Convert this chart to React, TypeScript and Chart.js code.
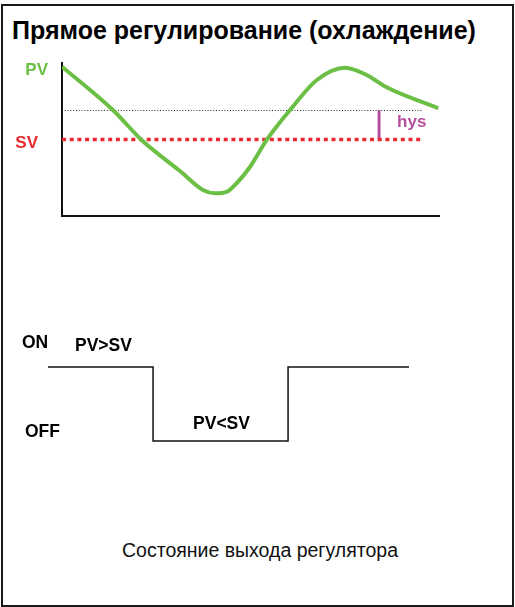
import React, { useEffect, useRef } from "react";
import { Chart, registerables } from "chart.js";

Chart.register(...registerables);

// ---- text ----
const TITLE = "Прямое регулирование (охлаждение)";
const CAPTION = "Состояние выхода регулятора";
const TOP_LABELS = ["PV", "SV", "hys"];
const OUT_LABELS = ["ON", "OFF", "PV>SV", "PV<SV"];

// ---- process value curve (time %, value %) ----
const PV_X = [0, 13.5, 21.1, 31.3, 37.4, 40.6, 43.8, 46.4, 49.9, 54.3, 60.5, 67.6, 75.1, 80.8, 86.1, 99.8];
const PV_Y = [97.6, 69.3, 49.7, 29.4, 17, 14.8, 15.9, 21.6, 32.2, 49.7, 69.3, 88.9, 96.9, 92.2, 84.1, 70.4];

// ---- set value / hysteresis ----
const SV = 50;
const HYS = 19;
const REF_END = 95.5;
const HYS_X = 84.1;

// ---- output state (time %, 1 = ON, 0 = OFF) ----
const OUT_X = [0, 29.1, 66.5, 100];
const OUT_Y = [1, 0, 1, 1];

const GREEN = "#6cbf45";
const RED = "#ea2a2f";
const MAGENTA = "#b4519f";
const FONT = '"Liberation Sans", Arial, Helvetica, sans-serif';

const topLabelPlugin = {
  id: "topLabels",
  afterDatasetsDraw(chart: any) {
    const { ctx, scales } = chart;
    const xs = scales.x;
    const ys = scales.y;
    ctx.save();
    ctx.font = `bold 17px ${FONT}`;
    ctx.textBaseline = "alphabetic";
    ctx.fillStyle = GREEN;
    ctx.textAlign = "right";
    ctx.fillText(TOP_LABELS[0], xs.left - 14, ys.getPixelForValue(PV_Y[0]) + 8);
    ctx.fillStyle = RED;
    ctx.fillText(TOP_LABELS[1], xs.left - 24, ys.getPixelForValue(SV) + 8.5);
    ctx.fillStyle = MAGENTA;
    ctx.textAlign = "left";
    const mid = (ys.getPixelForValue(SV) + ys.getPixelForValue(SV + HYS)) / 2;
    ctx.fillText(TOP_LABELS[2], xs.getPixelForValue(HYS_X) + 18, mid + 2);
    ctx.restore();
  },
};

const outLabelPlugin = {
  id: "outLabels",
  afterDatasetsDraw(chart: any) {
    const { ctx, scales } = chart;
    const xs = scales.x;
    const ys = scales.y;
    const on = ys.getPixelForValue(1);
    const off = ys.getPixelForValue(0);
    ctx.save();
    ctx.font = `bold 17.5px ${FONT}`;
    ctx.fillStyle = "#000";
    ctx.textAlign = "left";
    ctx.textBaseline = "alphabetic";
    ctx.fillText(OUT_LABELS[0], xs.left - 26, on - 18.7);
    ctx.fillText(OUT_LABELS[1], xs.left - 23, off - 4);
    ctx.fillText(OUT_LABELS[2], xs.left + 27, on - 16.3);
    ctx.fillText(OUT_LABELS[3], xs.getPixelForValue(OUT_X[1]) + 40, off - 12);
    ctx.restore();
  },
};

const axisOpts = (min: number, max: number) => ({
  type: "linear" as const,
  min,
  max,
  grid: { display: false, drawTicks: false },
  ticks: { display: false },
  border: { display: true, color: "#111", width: 2 },
});

export default function App() {
  const topRef = useRef<HTMLCanvasElement | null>(null);
  const botRef = useRef<HTMLCanvasElement | null>(null);

  useEffect(() => {
    const top = new Chart(topRef.current as HTMLCanvasElement, {
      type: "line",
      data: {
        datasets: [
          {
            label: "PV",
            data: PV_X.map((x, i) => ({ x, y: PV_Y[i] })),
            borderColor: GREEN,
            borderWidth: 4,
            pointRadius: 0,
            cubicInterpolationMode: "monotone",
            order: 0,
          },
          {
            label: "SV",
            data: [
              { x: 0, y: SV },
              { x: REF_END, y: SV },
            ],
            borderColor: RED,
            borderWidth: 3.5,
            borderDash: [4, 3.7],
            borderCapStyle: "butt",
            pointRadius: 0,
            order: 1,
          },
          {
            label: "SV+hys",
            data: [
              { x: 0, y: SV + HYS },
              { x: REF_END, y: SV + HYS },
            ],
            borderColor: "#222",
            borderWidth: 1,
            borderDash: [1, 1.8],
            pointRadius: 0,
            order: 2,
          },
          {
            label: "hys",
            data: [
              { x: HYS_X, y: SV },
              { x: HYS_X, y: SV + HYS },
            ],
            borderColor: MAGENTA,
            borderWidth: 3,
            pointRadius: 0,
            order: 3,
          },
        ],
      },
      options: {
        responsive: false,
        animation: false,
        devicePixelRatio: 1,
        events: [],
        layout: { padding: { left: 62, right: 76, top: 63, bottom: 14 } },
        plugins: { legend: { display: false }, tooltip: { enabled: false } },
        scales: { x: axisOpts(0, 100), y: axisOpts(0, 100) },
      },
      plugins: [topLabelPlugin],
    } as any);

    const bot = new Chart(botRef.current as HTMLCanvasElement, {
      type: "line",
      data: {
        datasets: [
          {
            label: "Output",
            data: OUT_X.map((x, i) => ({ x, y: OUT_Y[i] })),
            stepped: "before",
            borderColor: "#111",
            borderWidth: 1.5,
            pointRadius: 0,
            clip: false,
          },
        ],
      },
      options: {
        responsive: false,
        animation: false,
        devicePixelRatio: 1,
        events: [],
        layout: { padding: { left: 48, right: 106, top: 47, bottom: 19 } },
        plugins: { legend: { display: false }, tooltip: { enabled: false } },
        scales: {
          x: { type: "linear", min: 0, max: 100, display: false },
          y: { type: "linear", min: 0, max: 1, display: false },
        },
      },
      plugins: [outLabelPlugin],
    } as any);

    return () => {
      top.destroy();
      bot.destroy();
    };
  }, []);

  return (
    <div style={{ position: "absolute", left: 0, top: 0, width: 515, height: 607, background: "#fff", overflow: "hidden" }}>
      <div
        style={{
          position: "absolute",
          left: 1,
          top: 4,
          width: 513,
          height: 603,
          border: "2px solid #1a1a1a",
          boxSizing: "border-box",
        }}
      />
      <div
        style={{
          position: "absolute",
          left: 12,
          top: 18,
          font: `bold 25px ${FONT}`,
          lineHeight: "25px",
          whiteSpace: "nowrap",
          color: "#000",
        }}
      >
        {TITLE}
      </div>
      <canvas ref={topRef} width={515} height={230} style={{ position: "absolute", left: 0, top: 0 }} />
      <canvas ref={botRef} width={515} height={140} style={{ position: "absolute", left: 0, top: 320 }} />
      <div
        style={{
          position: "absolute",
          left: 3,
          top: 541,
          width: 514,
          textAlign: "center",
          font: `19.5px ${FONT}`,
          lineHeight: "19.5px",
          whiteSpace: "nowrap",
          color: "#111",
        }}
      >
        {CAPTION}
      </div>
    </div>
  );
}
